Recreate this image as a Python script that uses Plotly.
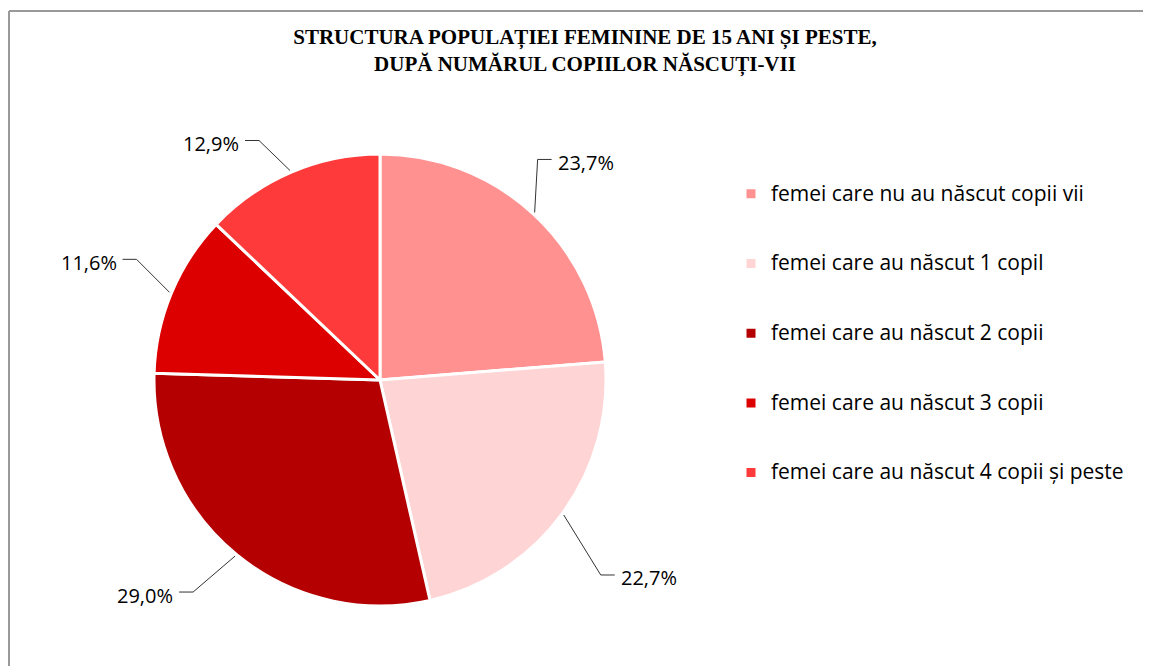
import math
import plotly.graph_objects as go

# ---- data ----
categories = [
    "femei care nu au născut copii vii",
    "femei care au născut 1 copil",
    "femei care au născut 2 copii",
    "femei care au născut 3 copii",
    "femei care au născut 4 copii și peste",
]
values = [23.7, 22.7, 29.0, 11.6, 12.9]
colors = ["#FF9191", "#FFD4D4", "#B40000", "#DC0000", "#FF3A3A"]
title_text = "STRUCTURA POPULAȚIEI FEMININE DE 15 ANI ȘI PESTE,<br>DUPĂ NUMĂRUL COPIILOR NĂSCUȚI-VII"

# ---- layout / style (pixels, figure coords; page body adds 8px margin) ----
OFF = 8
W, H = 1151 - OFF, 666 - OFF
CX, CY, R = 380 - OFF, 380 - OFF, 226
# elbow offsets of leader lines (pixels, relative to slice edge)
elbow_offsets = [(3, -53), (37, 60), (-42, 36), (-33, -33), (-31, -30)]
HSEG = 14
GAP = 4
LABEL_FONT = dict(family="Open Sans", size=20, color="#000000")

legend_labels = ["&nbsp;<br><span style='font-size:21px'>" + c + "</span><br>&nbsp;" for c in categories]


def px(x):
    return x / W


def py(y):
    return 1 - y / H


fig = go.Figure(
    go.Pie(
        labels=legend_labels,
        values=values,
        sort=False,
        direction="clockwise",
        rotation=0,
        textinfo="none",
        marker=dict(colors=colors, line=dict(color="white", width=3)),
        domain=dict(x=[px(CX - R), px(CX + R)], y=[py(CY + R), py(CY - R)]),
        hovertemplate="%{customdata}: %{value}%<extra></extra>",
        customdata=categories,
    )
)

shapes = []
annotations = []
total = sum(values)
cum = 0.0
for i, v in enumerate(values):
    mid = (cum + v / 2) / total * 2 * math.pi
    cum += v
    sx = CX + (R + 2) * math.sin(mid)
    sy = CY - (R + 2) * math.cos(mid)
    ex = sx + elbow_offsets[i][0]
    ey = sy + elbow_offsets[i][1]
    right = math.sin(mid) > 0
    hx = ex + (HSEG if right else -HSEG)
    tx = hx + (GAP if right else -GAP)
    path = f"M {px(sx)},{py(sy)} L {px(ex)},{py(ey)} L {px(hx)},{py(ey)}"
    shapes.append(dict(type="path", xref="paper", yref="paper", path=path,
                       line=dict(color="#333333", width=1)))
    label = f"{v:.1f}".replace(".", ",") + "%"
    annotations.append(dict(
        x=px(tx), y=py(ey + 3), xref="paper", yref="paper",
        text=label, showarrow=False,
        xanchor="left" if right else "right", yanchor="middle",
        font=LABEL_FONT,
    ))

# chart frame
shapes.append(dict(type="line", xref="paper", yref="paper", x0=px(1), x1=1, y0=py(3), y1=py(3),
                   line=dict(color="#999999", width=2)))
shapes.append(dict(type="line", xref="paper", yref="paper", x0=px(1), x1=px(1), y0=0, y1=py(3),
                   line=dict(color="#999999", width=2)))

fig.update_layout(
    width=W, height=H,
    margin=dict(l=0, r=0, t=0, b=0),
    paper_bgcolor="white",
    plot_bgcolor="white",
    title=dict(
        text=title_text,
        x=px(585 - OFF), xanchor="center",
        y=py(36), yanchor="top",
        font=dict(family="Liberation Serif", size=21, color="#000000", weight="bold"),
    ),
    legend=dict(
        x=px(723), xanchor="left",
        y=py(146), yanchor="top",
        font=dict(family="Open Sans", size=17.1, color="#000000"),
        valign="middle",
        bgcolor="rgba(0,0,0,0)",
    ),
    shapes=shapes,
    annotations=annotations,
)

fig.write_html("out.html")
